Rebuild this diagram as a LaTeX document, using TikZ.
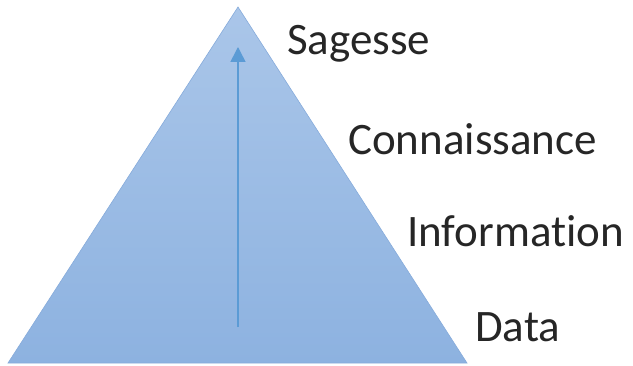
\documentclass[tikz,border=0pt]{standalone}
\usepackage{fontspec}
\setmainfont{Carlito}[Ligatures={NoCommon}]
\usetikzlibrary{arrows.meta}
\definecolor{tritop}{HTML}{AAC6E9}
\definecolor{tribot}{HTML}{8DB2E0}
\definecolor{triedge}{HTML}{86ABDB}
\definecolor{arrowblue}{HTML}{5B9BD5}
\tikzset{
  lbl/.style={anchor=base west, inner sep=0pt, text=black!85, font=\fontsize{45}{54}\selectfont},
  uparrow/.style={draw=arrowblue, line width=1.6pt, -{Triangle[length=15pt,width=15pt]}},
}
\begin{document}
\begin{tikzpicture}[x=1pt,y=1pt]
\useasboundingbox (0,0) rectangle (633,365);
\coordinate (apex) at (238,358);
\coordinate (bl) at (8,2);
\coordinate (br) at (467,2);
\shade[top color=tritop, bottom color=tribot, draw=triedge, line width=0.6pt] (apex) -- (br) -- (bl) -- cycle;
\coordinate (abot) at (238,38);
\coordinate (atop) at (238,318);
\draw[uparrow] (abot) -- (atop);
\node[lbl] (sag) at (287,310) {Sagesse};
\node[lbl] (con) at (348,210) {Connaissance};
\node[lbl] (inf) at (407,118) {Information};
\node[lbl] (dat) at (475,24) {Data};
\end{tikzpicture}
\end{document}
